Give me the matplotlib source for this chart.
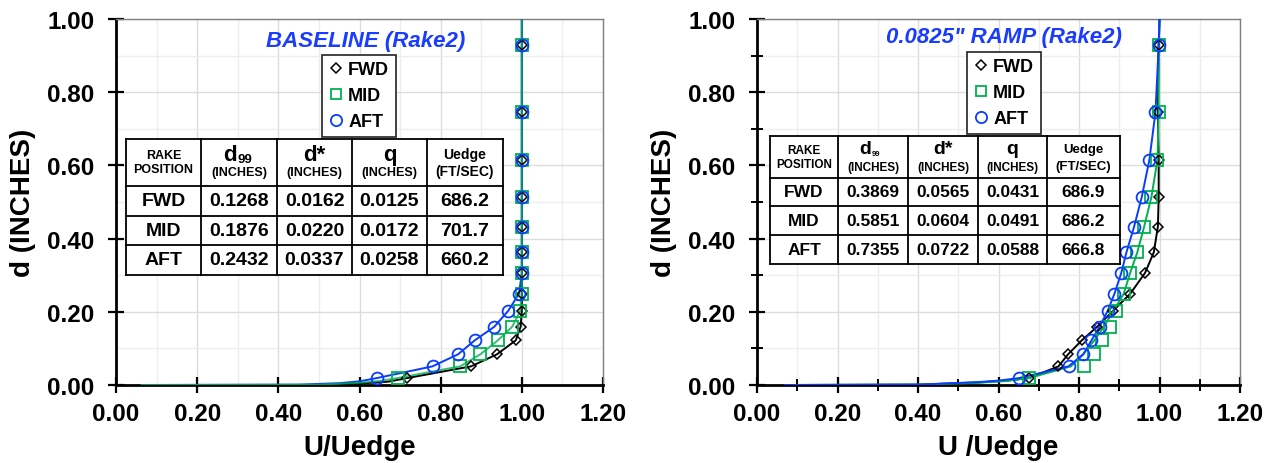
import matplotlib
matplotlib.use("Agg")
import matplotlib.pyplot as plt
from matplotlib.patches import Rectangle
from matplotlib.ticker import MultipleLocator, FormatStrFormatter
from matplotlib.lines import Line2D

plt.rcParams['font.family'] = ['Liberation Sans', 'DejaVu Sans']
plt.rcParams['font.weight'] = 'bold'

# ---- data ----
rakes = ["FWD", "MID", "AFT"]

# probe heights, inches (same rake for both configs)
y_probe = [0.019, 0.051, 0.084, 0.122, 0.159, 0.202, 0.249, 0.306,
           0.363, 0.433, 0.514, 0.616, 0.746, 0.928]

# BASELINE  U/Uedge
base_fwd = [0.718, 0.875, 0.939, 0.985, 0.997, 1.0, 1.0, 1.0, 1.0, 1.0, 1.0, 1.0, 1.0, 1.0]
base_mid = [0.694, 0.848, 0.898, 0.941, 0.976, 0.996, 1.0, 1.0, 1.0, 1.0, 1.0, 1.0, 1.0, 1.0]
base_aft = [0.643, 0.780, 0.843, 0.884, 0.932, 0.966, 0.993, 1.0, 1.0, 1.0, 1.0, 1.0, 1.0, 1.0]

# 0.0825" RAMP  U/Uedge
ramp_fwd = [0.676, 0.749, 0.773, 0.807, 0.845, 0.884, 0.927, 0.964, 0.986, 0.996, 0.998, 0.998, 0.996, 0.998]
ramp_mid = [0.676, 0.812, 0.837, 0.858, 0.876, 0.893, 0.911, 0.927, 0.945, 0.962, 0.980, 0.995, 0.998, 0.998]
ramp_aft = [0.651, 0.774, 0.811, 0.831, 0.851, 0.871, 0.888, 0.905, 0.918, 0.937, 0.956, 0.975, 0.990, 0.998]

# fitted profile curves (x, y)
base_fit = {
    "FWD": ([0.061, 0.50, 0.60, 0.67] + base_fwd + [1.0],
            [0.0, 0.0, 0.004, 0.009] + y_probe + [1.0]),
    "MID": ([0.061, 0.50, 0.60, 0.65] + base_mid + [1.0],
            [0.0, 0.001, 0.006, 0.011] + y_probe + [1.0]),
    "AFT": ([0.061, 0.45, 0.55, 0.60] + base_aft + [1.0],
            [0.0, 0.001, 0.005, 0.010] + y_probe + [1.0]),
}
ramp_fit = {
    "FWD": ([0.067, 0.40, 0.55, 0.62] + ramp_fwd + [1.0],
            [0.0, 0.001, 0.007, 0.012] + y_probe + [1.0]),
    "MID": ([0.067, 0.40, 0.55, 0.62, 0.676, 0.780, 0.810, 0.838, 0.862, 0.885,
             0.911, 0.927, 0.945, 0.962, 0.980, 0.995, 0.998, 0.998, 1.0],
            [0.0, 0.001, 0.006, 0.011] + y_probe + [1.0]),
    "AFT": ([0.067, 0.40, 0.55, 0.60] + ramp_aft + [1.0],
            [0.0, 0.001, 0.008, 0.012] + y_probe + [1.0]),
}

# boundary-layer tables
base_tab = [["0.1268", "0.0162", "0.0125", "686.2"],
            ["0.1876", "0.0220", "0.0172", "701.7"],
            ["0.2432", "0.0337", "0.0258", "660.2"]]
ramp_tab = [["0.3869", "0.0565", "0.0431", "686.9"],
            ["0.5851", "0.0604", "0.0491", "686.2"],
            ["0.7355", "0.0722", "0.0588", "666.8"]]

# ---- style ----
C = {"FWD": "#000000", "MID": "#00b050", "AFT": "#0a3cff"}
MK = {"FWD": dict(marker="D", ms=5.0, mew=1.1),
      "MID": dict(marker="s", ms=8.0, mew=1.3),
      "AFT": dict(marker="o", ms=8.5, mew=1.3)}

W, H = 1276, 464
fig = plt.figure(figsize=(W / 100, H / 100), dpi=100)
fig.patch.set_facecolor("white")


def px(x, y):
    return x / W, 1 - y / H


def setup_axes(ax, minor):
    ax.set_xlim(0, 1.2)
    ax.set_ylim(0, 1.0)
    ax.xaxis.set_major_locator(MultipleLocator(0.2))
    ax.yaxis.set_major_locator(MultipleLocator(0.2))
    ax.xaxis.set_minor_locator(MultipleLocator(0.1))
    ax.yaxis.set_minor_locator(MultipleLocator(0.1))
    ax.xaxis.set_major_formatter(FormatStrFormatter("%.2f"))
    ax.yaxis.set_major_formatter(FormatStrFormatter("%.2f"))
    ax.grid(which="major", color="#dcdcdc", lw=1.0, zorder=0)
    ax.grid(which="minor", color="#eeeeee", lw=1.0, zorder=0)
    ax.set_axisbelow(True)
    for s in ("top", "right"):
        ax.spines[s].set_color("#7f7f7f")
        ax.spines[s].set_linewidth(1.0)
    for s in ("left", "bottom"):
        ax.spines[s].set_color("black")
        ax.spines[s].set_linewidth(2.0)
    ax.tick_params(which="major", direction="inout", length=11, width=1.6,
                   labelsize=17.5, pad=7)
    ax.tick_params(axis="y", which="major", pad=10)
    if minor:
        ax.tick_params(which="minor", direction="inout", length=8, width=1.4)
    else:
        ax.tick_params(which="minor", length=0)
    ax.tick_params(top=False, right=False, which="both")
    for lab in ax.get_xticklabels() + ax.get_yticklabels():
        lab.set_fontweight("bold")
    ax.set_ylabel("d (INCHES)", fontsize=20, fontweight="bold", labelpad=8)


def draw_panel(ax, fits, points, order, line_alpha):
    for r in order:
        fx, fy = fits[r]
        ax.plot(fx, fy, color=C[r], lw=1.4, alpha=line_alpha.get(r, 1.0),
                zorder=3, solid_capstyle="butt")
    for r in ["FWD", "MID", "AFT"]:
        ax.plot(points[r], y_probe, ls="none", color=C[r], mfc="none",
                mec=C[r], zorder=4, **MK[r])
    handles = [Line2D([], [], ls="none", color=C[r], mfc="none", mec=C[r],
                      marker=MK[r]["marker"], ms=MK[r]["ms"] * 0.95,
                      mew=MK[r]["mew"]) for r in rakes]
    return handles


def draw_table(ov, cols, rows, data, fs_val, fs_hdr, fs_d, fs_sub, sub_dx):
    x0, x1 = cols[0], cols[-1]
    y0, y1 = rows[0], rows[-1]
    ov.add_patch(Rectangle((x0, y0), x1 - x0, y1 - y0, facecolor="white",
                           edgecolor="none", zorder=5))
    for x in cols:
        ov.plot([x, x], [y0, y1], color="black", lw=1.3, zorder=6)
    for y in rows:
        ov.plot([x0, x1], [y, y], color="black", lw=1.3, zorder=6)
    hy0, hy1 = rows[0], rows[1]
    hm = (hy0 + hy1) / 2
    cx = [(cols[i] + cols[i + 1]) / 2 for i in range(len(cols) - 1)]
    kw = dict(ha="center", va="center", fontweight="bold", zorder=7)
    ov.text(cx[0], hm - 7, "RAKE", fontsize=fs_hdr, **kw)
    ov.text(cx[0], hm + 7, "POSITION", fontsize=fs_hdr, **kw)
    # symbol headers
    ov.text(cx[1] - 2, hm - 8, "d", fontsize=fs_d, ha="right", va="center",
            fontweight="bold", zorder=7)
    ov.text(cx[1] - 1, hm - 3, "99", fontsize=fs_sub, ha="left", va="center",
            fontweight="bold", zorder=7)
    ov.text(cx[2], hm - 8, "d*", fontsize=fs_d, **kw)
    ov.text(cx[3], hm - 8, "q", fontsize=fs_d, **kw)
    for i in (1, 2, 3):
        ov.text(cx[i], hm + 10, "(INCHES)", fontsize=fs_hdr, **kw)
    ov.text(cx[4], hm - 8, "Uedge", fontsize=fs_hdr + 1, **kw)
    ov.text(cx[4], hm + 9, "(FT/SEC)", fontsize=fs_hdr + 1, **kw)
    for j, r in enumerate(rakes):
        ym = (rows[j + 1] + rows[j + 2]) / 2
        ov.text(cx[0], ym, r, fontsize=fs_val, **kw)
        for i, v in enumerate(data[j]):
            ov.text(cx[i + 1], ym, v, fontsize=fs_val, **kw)


# ---- left panel: BASELINE ----
axL = fig.add_axes([116 / W, 1 - 386 / H, (603 - 116) / W, (386 - 20) / H])
setup_axes(axL, minor=False)
hL = draw_panel(axL, base_fit,
                {"FWD": base_fwd, "MID": base_mid, "AFT": base_aft},
                ["FWD", "AFT", "MID"], {"MID": 0.8})
axL.set_xlabel("U/Uedge", fontsize=20, fontweight="bold", labelpad=6)
legL = axL.legend(hL, rakes, loc="upper left", bbox_to_anchor=px(322, 56),
                  bbox_transform=fig.transFigure, frameon=True, fancybox=False,
                  edgecolor="#333333", framealpha=1, handlelength=0.8,
                  handletextpad=0.3, borderpad=0.35, labelspacing=0.5,
                  borderaxespad=0, prop=dict(weight="bold", size=13))
legL.get_frame().set_linewidth(1.3)

# ---- right panel: RAMP ----
axR = fig.add_axes([757 / W, 1 - 386 / H, (1240 - 757) / W, (386 - 20) / H])
setup_axes(axR, minor=True)
hR = draw_panel(axR, ramp_fit,
                {"FWD": ramp_fwd, "MID": ramp_mid, "AFT": ramp_aft},
                ["FWD", "MID", "AFT"], {})
axR.set_xlabel("U /Uedge", fontsize=20, fontweight="bold", labelpad=6)
legR = axR.legend(hR, rakes, loc="upper left", bbox_to_anchor=px(967, 53),
                  bbox_transform=fig.transFigure, frameon=True, fancybox=False,
                  edgecolor="#333333", framealpha=1, handlelength=0.8,
                  handletextpad=0.3, borderpad=0.35, labelspacing=0.5,
                  borderaxespad=0, prop=dict(weight="bold", size=13))
legR.get_frame().set_linewidth(1.3)

# ---- overlay for titles and tables (pixel coordinates) ----
ov = fig.add_axes([0, 0, 1, 1], zorder=10)
ov.set_xlim(0, W)
ov.set_ylim(H, 0)
ov.axis("off")
ov.patch.set_alpha(0)

ov.text(366, 42, "BASELINE (Rake2)", color="#1a3cff", fontsize=16,
        fontweight="bold", style="italic", ha="center", va="center")
ov.text(1004, 38, "0.0825\" RAMP (Rake2)", color="#1a3cff", fontsize=16,
        fontweight="bold", style="italic", ha="center", va="center")

draw_table(ov, [126, 201, 277, 352, 427, 503], [140, 187, 217, 246, 276],
           base_tab, fs_val=14, fs_hdr=9, fs_d=16, fs_sub=9.5, sub_dx=0)
draw_table(ov, [770, 838, 908, 978, 1047, 1120], [137, 179, 207, 236, 265],
           ramp_tab, fs_val=12.5, fs_hdr=8.5, fs_d=14, fs_sub=5.5, sub_dx=0)

fig.savefig("out.png", dpi=100, facecolor="white")
